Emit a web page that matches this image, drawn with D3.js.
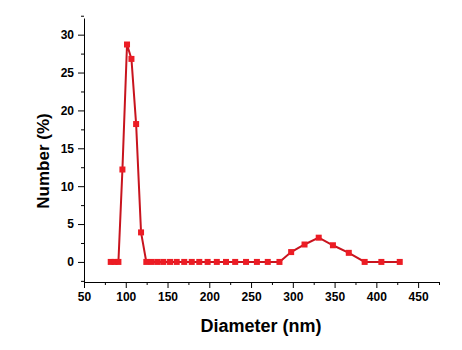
<!DOCTYPE html>
<html>
<head>
<meta charset="utf-8">
<script src="https://cdn.jsdelivr.net/npm/d3@7"></script>
<style>
  body { margin: 0; background: #fff; }
  .axis text { font-family: "Liberation Sans", Arial, sans-serif; font-weight: bold; font-size: 12px; fill: #000; }
  .axis path, .axis line { stroke: #000; stroke-width: 1; }
  .title { font-family: "Liberation Sans", Arial, sans-serif; font-weight: bold; }
</style>
</head>
<body>
<div id="chart"></div>
<script>
var diameters = [82, 86.6, 91.2, 96, 101.5, 106.8, 112.4, 118.3, 124.6, 131, 138, 145, 153, 161, 170, 179, 188, 198, 209, 220, 231, 244, 257, 270, 284, 298, 314, 331, 348, 367, 386, 406, 428];
var numbers = [0, 0, 0, 12.2, 28.7, 26.8, 18.2, 3.9, 0, 0, 0, 0, 0, 0, 0, 0, 0, 0, 0, 0, 0, 0, 0, 0, 0, 1.3, 2.3, 3.2, 2.2, 1.2, 0, 0, 0];
var xTicks = [50, 100, 150, 200, 250, 300, 350, 400, 450];
var yTicks = [0, 5, 10, 15, 20, 25, 30];

var data = diameters.map((d, i) => ({ d: d, v: numbers[i] }));

var width = 462, height = 350;
var margin = { top: 18, right: 23, bottom: 68, left: 84 };
var chartWidth = width - margin.left - margin.right;
var chartHeight = height - margin.top - margin.bottom;

var svg = d3.select("#chart")
  .append("svg")
  .attr("width", width)
  .attr("height", height);

var g = svg.append("g")
  .attr("transform", `translate(${margin.left}, ${margin.top})`);

var xScale = d3.scaleLinear().domain([50, 475]).range([0, chartWidth]);
var yScale = d3.scaleLinear().domain([-2.65, 32.2]).range([chartHeight, 0]);

// minor ticks
g.append("g")
  .attr("class", "axis")
  .attr("transform", `translate(0, ${chartHeight})`)
  .call(d3.axisBottom(xScale).tickValues(d3.range(75, 476, 50)).tickSize(3).tickFormat(""))
  .select(".domain").remove();

g.append("g")
  .attr("class", "axis")
  .call(d3.axisLeft(yScale).tickValues(d3.range(-2.5, 32.6, 5)).tickSize(3).tickFormat(""))
  .select(".domain").remove();

g.append("g")
  .attr("class", "x axis")
  .attr("transform", `translate(0, ${chartHeight})`)
  .call(d3.axisBottom(xScale).tickValues(xTicks).tickSize(6).tickSizeOuter(0).tickPadding(4));

g.append("g")
  .attr("class", "y axis")
  .call(d3.axisLeft(yScale).tickValues(yTicks).tickSize(6).tickSizeOuter(0).tickPadding(4));

var line = d3.line()
  .x(d => xScale(d.d))
  .y(d => yScale(d.v));

g.append("path")
  .datum(data)
  .attr("fill", "none")
  .attr("stroke", "#c8141e")
  .attr("stroke-width", 2)
  .attr("d", line);

g.append("g")
  .selectAll("rect")
  .data(data)
  .enter()
  .append("rect")
  .attr("x", d => xScale(d.d) - 3)
  .attr("y", d => yScale(d.v) - 3)
  .attr("width", 6)
  .attr("height", 6)
  .attr("fill", "#ec1c24");

svg.append("text")
  .attr("class", "title")
  .attr("font-size", 18)
  .attr("x", 261)
  .attr("y", 332)
  .attr("text-anchor", "middle")
  .text("Diameter (nm)");

svg.append("text")
  .attr("class", "title")
  .attr("font-size", 17)
  .attr("transform", "translate(49, 161) rotate(-90)")
  .attr("text-anchor", "middle")
  .text("Number (%)");
</script>
</body>
</html>
